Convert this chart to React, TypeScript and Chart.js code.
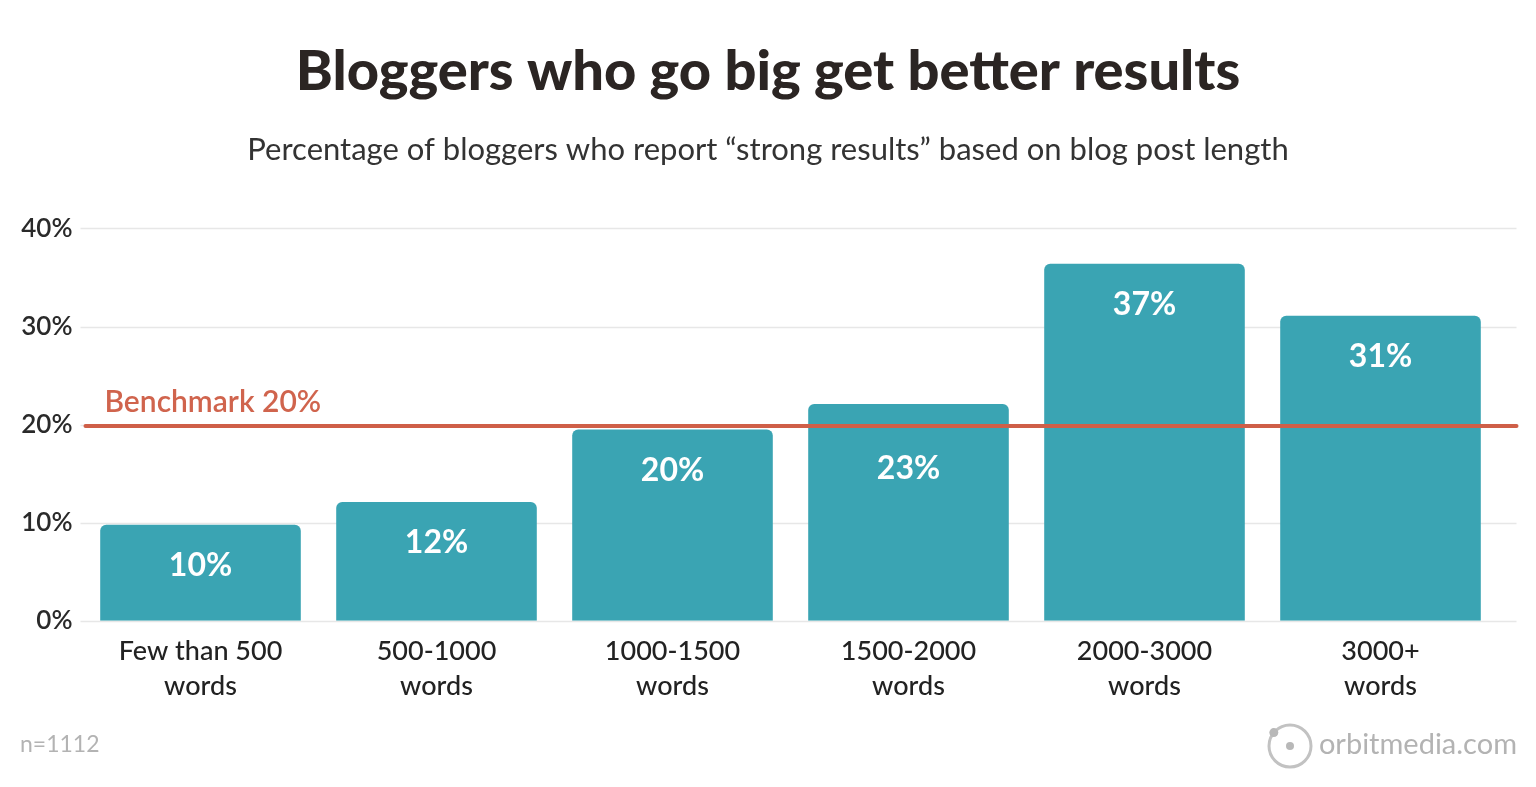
import React, { useEffect, useRef } from 'react';
import { Chart, registerables } from 'chart.js';

Chart.register(...registerables);

const categories: string[][] = [
  ['Few than 500', 'words'],
  ['500-1000', 'words'],
  ['1000-1500', 'words'],
  ['1500-2000', 'words'],
  ['2000-3000', 'words'],
  ['3000+', 'words'],
];
const values: number[] = [9.8, 12.1, 19.5, 22.1, 36.4, 31.1];
const valueLabels: string[] = ['10%', '12%', '20%', '23%', '37%', '31%'];
const yTickValues: number[] = [0, 10, 20, 30, 40];
const benchmarkValue = 20;
const benchmarkLabel = 'Benchmark 20%';
const titleText = 'Bloggers who go big get better results';
const subtitleText = 'Percentage of bloggers who report “strong results” based on blog post length';
const sampleNote = 'n=1112';
const brandText = 'orbitmedia.com';

const FONT = "Lato, 'Open Sans', sans-serif";
const BAR_COLOR = '#3aa4b3';
const RED = '#cf5f48';

const gridPlugin = {
  id: 'customGrid',
  beforeDatasetsDraw(chart: any) {
    const { ctx, chartArea, scales } = chart;
    const y = scales.y;
    ctx.save();
    ctx.strokeStyle = '#e7e7e7';
    ctx.lineWidth = 1.5;
    for (const v of yTickValues) {
      const py = Math.round(y.getPixelForValue(v)) + 0.5;
      ctx.beginPath();
      ctx.moveTo(chartArea.left - 2, py);
      ctx.lineTo(chartArea.right + 18, py);
      ctx.stroke();
    }
    ctx.restore();
  },
};

const overlayPlugin = {
  id: 'overlay',
  afterDatasetsDraw(chart: any) {
    const { ctx, chartArea, scales } = chart;
    const y = scales.y;
    const by = y.getPixelForValue(benchmarkValue) + 1.5;
    ctx.save();
    ctx.strokeStyle = RED;
    ctx.lineWidth = 4;
    ctx.lineCap = 'round';
    ctx.beginPath();
    ctx.moveTo(chartArea.left + 3, by);
    ctx.lineTo(chartArea.right + 18, by);
    ctx.stroke();
    ctx.fillStyle = '#d0644d';
    ctx.font = `600 30px ${FONT}`;
    ctx.textAlign = 'left';
    ctx.textBaseline = 'middle';
    ctx.fillText(benchmarkLabel, chartArea.left + 22, by - 24);

    const meta = chart.getDatasetMeta(0);
    ctx.fillStyle = '#ffffff';
    ctx.font = `bold 32px ${FONT}`;
    ctx.textAlign = 'center';
    meta.data.forEach((el: any, i: number) => {
      let ly = el.y + 41;
      // keep the value label clear of the benchmark line
      if (Math.abs(ly - by) < 26) ly = by + 43;
      ctx.fillText(valueLabels[i], el.x, ly);
    });
    ctx.restore();
  },
  afterDraw(chart: any) {
    const { ctx } = chart;
    ctx.save();
    ctx.fillStyle = '#b3b3b3';
    ctx.textBaseline = 'middle';
    ctx.font = `400 23px ${FONT}`;
    ctx.textAlign = 'left';
    ctx.fillText(sampleNote, 20, 745);
    ctx.font = `400 29px ${FONT}`;
    ctx.textAlign = 'right';
    ctx.fillText(brandText, 1517, 745);
    const cx = 1290, cy = 746, r = 21;
    ctx.strokeStyle = '#c2c2c2';
    ctx.lineWidth = 3;
    ctx.beginPath();
    ctx.arc(cx, cy, r, 0, Math.PI * 2);
    ctx.stroke();
    ctx.fillStyle = '#b8b8b8';
    ctx.beginPath();
    ctx.arc(cx, cy, 4, 0, Math.PI * 2);
    ctx.fill();
    ctx.beginPath();
    ctx.arc(cx + r * Math.cos(Math.PI * 1.22), cy + r * Math.sin(Math.PI * 1.22), 4.5, 0, Math.PI * 2);
    ctx.fill();
    ctx.restore();
  },
};

export default function App() {
  const canvasRef = useRef<HTMLCanvasElement | null>(null);

  useEffect(() => {
    document.body.style.margin = '0';
    const canvas = canvasRef.current;
    if (!canvas) return;
    const chart = new Chart(canvas, {
      type: 'bar',
      data: {
        labels: categories,
        datasets: [
          {
            data: values,
            backgroundColor: BAR_COLOR,
            borderRadius: { topLeft: 6, topRight: 6, bottomLeft: 0, bottomRight: 0 },
            borderSkipped: false,
            categoryPercentage: 0.85,
            barPercentage: 1,
          },
        ],
      },
      options: {
        responsive: false,
        animation: false,
        layout: { padding: { top: 0, left: 0, right: 0, bottom: 70 } },
        plugins: {
          legend: { display: false },
          tooltip: { enabled: false },
          title: {
            display: true,
            text: titleText,
            color: '#2b2523',
            font: { family: FONT, size: 56, weight: '900' as any, lineHeight: 1.2 },
            padding: { top: 38, bottom: 26 },
          },
          subtitle: {
            display: true,
            text: subtitleText,
            color: '#333333',
            font: { family: FONT, size: 31, weight: '400' as any, lineHeight: 1.2 },
            padding: { top: 0, bottom: 60 },
          },
        },
        scales: {
          x: {
            grid: { display: false, drawTicks: false },
            border: { display: false },
            ticks: {
              color: '#222222',
              font: { family: FONT, size: 27, weight: '500' as any, lineHeight: 1.3 },
              padding: 13,
              maxRotation: 0,
              autoSkip: false,
            },
          },
          y: {
            min: 0,
            max: 40,
            afterFit(scale: any) {
              scale.width = 82.5;
            },
            grid: { display: false, drawTicks: false },
            border: { display: false },
            ticks: {
              stepSize: 10,
              color: '#2a2a2a',
              padding: 10,
              font: { family: FONT, size: 26, weight: '600' as any },
              callback: (v: any) => `${v}%`,
            },
          },
          yRight: {
            position: 'right',
            min: 0,
            max: 40,
            afterFit(scale: any) {
              scale.width = 37.5;
            },
            grid: { display: false, drawTicks: false },
            border: { display: false },
            ticks: { display: false },
          },
        },
      },
      plugins: [gridPlugin, overlayPlugin],
    });
    return () => chart.destroy();
  }, []);

  return <canvas ref={canvasRef} width={1536} height={787} style={{ display: 'block' }} />;
}
